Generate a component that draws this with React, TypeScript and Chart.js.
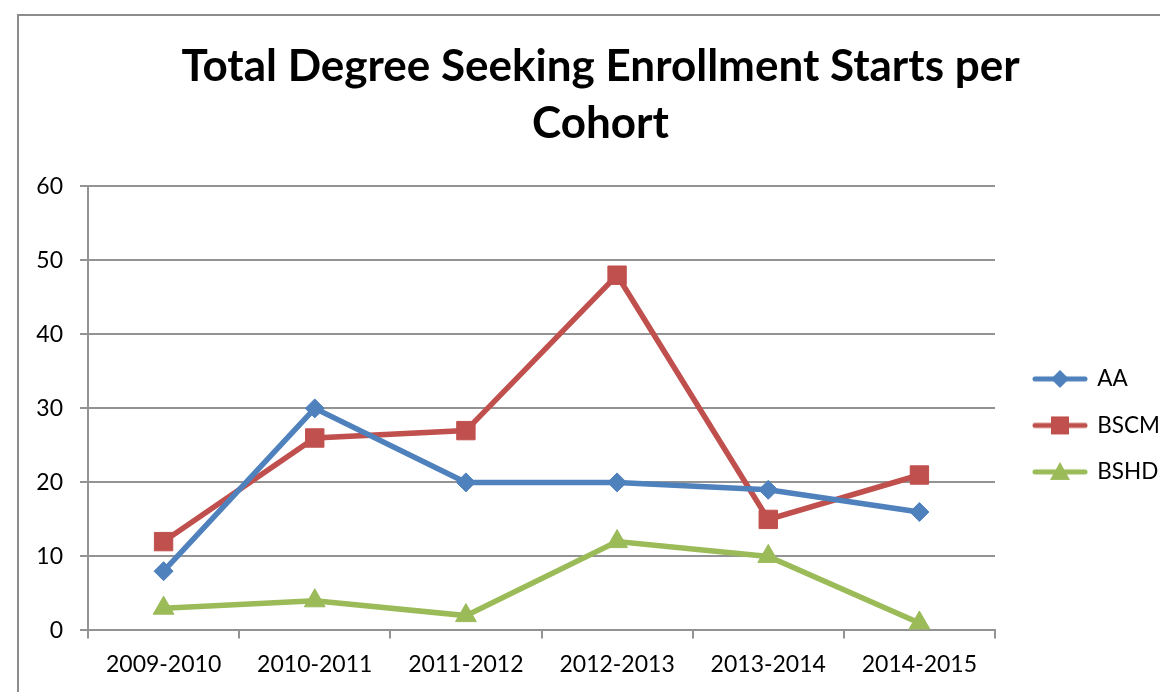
import React, { useEffect, useRef } from "react";
import { Chart, registerables } from "chart.js";

Chart.register(...registerables);

const categories = ["2009-2010", "2010-2011", "2011-2012", "2012-2013", "2013-2014", "2014-2015"];
const aaValues = [8, 30, 20, 20, 19, 16];
const bscmValues = [12, 26, 27, 48, 15, 21];
const bshdValues = [3, 4, 2, 12, 10, 1];
const seriesNames = ["AA", "BSCM", "BSHD"];
const titleLines = ["Total Degree Seeking Enrollment Starts per", "Cohort"];
const yMin = 0;
const yMax = 60;
const yStep = 10;

const COLORS = ["#4F81BD", "#C0504D", "#9BBB59"];
const GRID = "#939393";
const FONT = "Lato, 'Open Sans', sans-serif";

function legendIcon(kind: string, color: string): HTMLCanvasElement {
  const c = document.createElement("canvas");
  c.width = 56;
  c.height = 26;
  const ctx = c.getContext("2d")!;
  const cy = 13;
  ctx.strokeStyle = color;
  ctx.lineWidth = 5;
  ctx.lineCap = "round";
  ctx.beginPath();
  ctx.moveTo(3, cy);
  ctx.lineTo(53, cy);
  ctx.stroke();
  ctx.fillStyle = color;
  ctx.beginPath();
  const cx = 28;
  if (kind === "diamond") {
    ctx.moveTo(cx - 9, cy);
    ctx.lineTo(cx, cy - 9);
    ctx.lineTo(cx + 9, cy);
    ctx.lineTo(cx, cy + 9);
  } else if (kind === "square") {
    ctx.rect(cx - 9, cy - 9, 18, 18);
  } else {
    ctx.moveTo(cx, cy - 10);
    ctx.lineTo(cx + 10, cy + 8);
    ctx.lineTo(cx - 10, cy + 8);
  }
  ctx.closePath();
  ctx.fill();
  return c;
}

const framePlugin = {
  id: "frame",
  beforeDraw(chart: any) {
    const ctx = chart.ctx;
    ctx.save();
    ctx.fillStyle = "#ffffff";
    ctx.fillRect(0, 0, chart.width, chart.height);
    ctx.strokeStyle = "#8c8c8c";
    ctx.lineWidth = 2;
    ctx.strokeRect(18, 15, 1300, 900);
    ctx.restore();
  },
};

export default function App() {
  const ref = useRef<HTMLCanvasElement | null>(null);

  useEffect(() => {
    if (!ref.current) return;
    const icons = [
      legendIcon("diamond", COLORS[0]),
      legendIcon("square", COLORS[1]),
      legendIcon("triangle", COLORS[2]),
    ];
    const styles = ["rectRot", "rect", "triangle"];
    const radii = [9.5, 13, 12];
    const values = [aaValues, bscmValues, bshdValues];
    const chart = new Chart(ref.current, {
      type: "line",
      data: {
        labels: categories,
        datasets: seriesNames.map((name, i) => ({
          label: name,
          data: values[i],
          borderColor: COLORS[i],
          backgroundColor: COLORS[i],
          borderWidth: 5.5,
          tension: 0,
          pointStyle: styles[i] as any,
          pointRadius: radii[i],
          pointHoverRadius: radii[i],
          pointBackgroundColor: COLORS[i],
          pointBorderColor: COLORS[i],
          pointBorderWidth: 1,
          fill: false,
        })),
      },
      options: {
        animation: false,
        responsive: false,
        devicePixelRatio: 1,
        layout: { padding: { left: 36, right: -5, top: 0, bottom: 2 } },
        plugins: {
          title: {
            display: true,
            text: titleLines,
            color: "#000000",
            font: { family: FONT, size: 44, weight: "bold", lineHeight: 1.3 },
            padding: { top: 38, bottom: 34 },
          },
          legend: {
            display: true,
            position: "right",
            fullSize: false,
            maxWidth: 155,
            title: { display: true, text: "", font: { size: 1, lineHeight: 1 }, padding: { top: 33, bottom: 0 } },
            labels: {
              usePointStyle: true,
              pointStyleWidth: 52,
              padding: 24,
              color: "#000000",
              font: { family: FONT, size: 22.5 },
              generateLabels: (ch: any) =>
                ch.data.datasets.map((ds: any, i: number) => ({
                  text: ds.label,
                  pointStyle: icons[i],
                  fillStyle: COLORS[i],
                  strokeStyle: COLORS[i],
                  lineWidth: 0,
                  hidden: false,
                  datasetIndex: i,
                  fontColor: "#000000",
                })),
            },
          },
          tooltip: { enabled: false },
        },
        scales: {
          x: {
            type: "category",
            offset: true,
            grid: {
              display: true,
              offset: true,
              drawOnChartArea: false,
              drawTicks: true,
              tickLength: 8,
              color: GRID,
              lineWidth: 2,
            },
            border: { display: true, color: GRID, width: 2 },
            ticks: {
              color: "#000000",
              padding: 12,
              maxRotation: 0,
              autoSkip: false,
              font: { family: FONT, size: 23, lineHeight: 1.2 },
            },
          },
          y: {
            min: yMin,
            max: yMax,
            grid: { color: GRID, tickLength: 8, drawTicks: true, lineWidth: 2 },
            border: { display: true, color: GRID, width: 2 },
            ticks: {
              stepSize: yStep,
              color: "#000000",
              padding: 17,
              font: { family: FONT, size: 23, lineHeight: 1.2 },
            },
            afterFit: (s: any) => {
              s.width = 52;
            },
          },
          gap: {
            type: "linear",
            position: "right",
            display: true,
            grid: { display: false },
            border: { display: false },
            ticks: { display: false },
            afterFit: (s: any) => {
              s.width = 15;
            },
          },
        },
      },
      plugins: [framePlugin],
    } as any);
    return () => chart.destroy();
  }, []);

  return (
    <div style={{ position: "absolute", left: 0, top: 0, width: 1160, height: 692, background: "#fff" }}>
      <canvas ref={ref} width={1160} height={692} style={{ display: "block" }} />
    </div>
  );
}
